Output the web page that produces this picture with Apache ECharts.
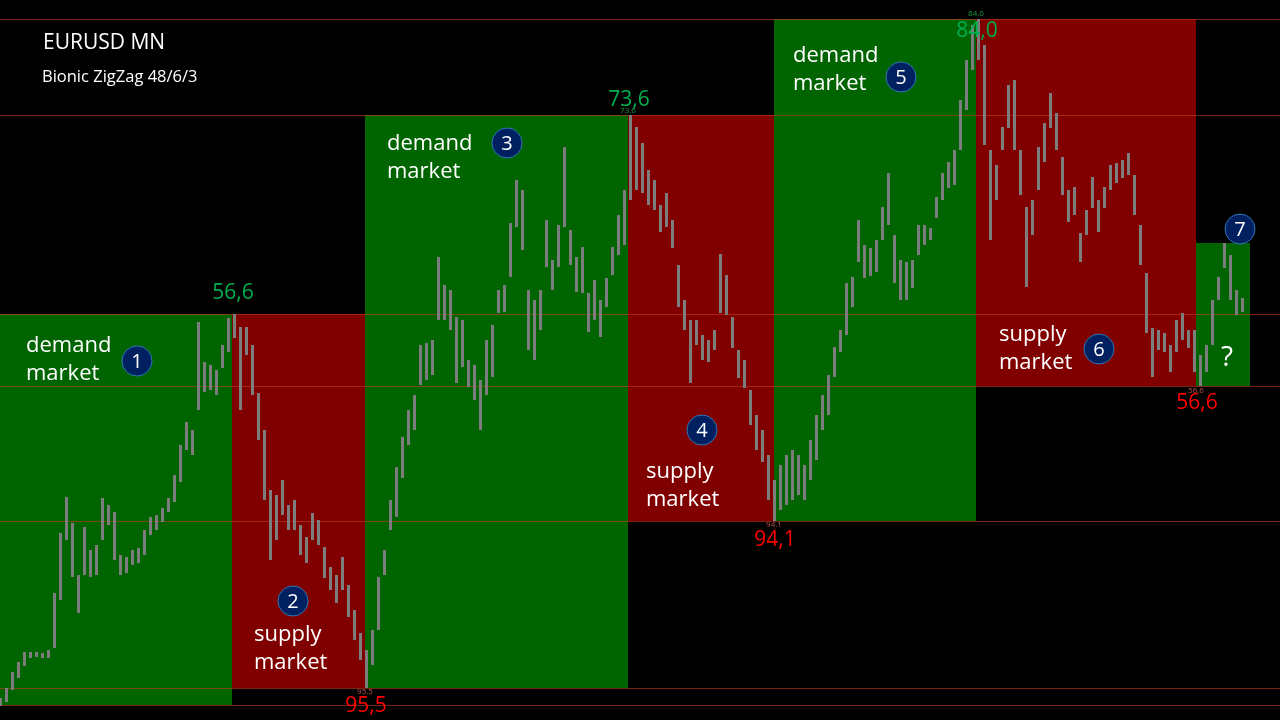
<!DOCTYPE html>
<html>
<head>
<meta charset="utf-8">
<script src="https://cdn.jsdelivr.net/npm/echarts@6/dist/echarts.min.js"></script>
<style>
html, body { margin: 0; padding: 0; background: #000; }
#main { width: 1280px; height: 720px; }
</style>
</head>
<body>
<div id="main"></div>
<script>
// monthly bars, one every bar index (high / low)
var highs = [0.822,0.832,0.848,0.858,0.868,0.868,0.868,0.867,0.870,0.927,
  0.987,1.023,0.997,0.945,0.993,0.970,0.975,1.022,1.015,1.008,
  0.965,0.963,0.970,0.972,0.990,1.003,1.005,1.012,1.022,1.045,
  1.075,1.098,1.090,1.198,1.158,1.155,1.150,1.175,1.202,1.206,
  1.193,1.193,1.175,1.127,1.090,1.030,1.025,1.040,1.015,1.020,
  0.995,0.983,1.007,1.000,0.973,0.953,0.945,0.963,0.935,0.910,
  0.887,0.870,0.890,0.943,0.970,1.020,1.053,1.083,1.110,1.125,
  1.175,1.177,1.180,1.263,1.235,1.230,1.203,1.200,1.160,1.155,
  1.140,1.180,1.195,1.230,1.235,1.297,1.340,1.330,1.230,1.220,
  1.230,1.300,1.260,1.295,1.373,1.290,1.263,1.273,1.227,1.240,
  1.220,1.242,1.273,1.305,1.330,1.405,1.393,1.377,1.350,1.340,
  1.315,1.327,1.300,1.255,1.220,1.200,1.200,1.185,1.180,1.190,
  1.266,1.245,1.203,1.170,1.160,1.130,1.105,1.090,1.065,1.040,
  1.055,1.065,1.070,1.065,1.055,1.080,1.105,1.125,1.145,1.173,
  1.190,1.237,1.243,1.300,1.275,1.272,1.280,1.313,1.347,1.285,
  1.260,1.258,1.260,1.295,1.295,1.292,1.323,1.347,1.358,1.370,
  1.420,1.460,1.495,1.501,1.475,1.370,1.355,1.393,1.435,1.440,
  1.370,1.313,1.320,1.373,1.397,1.427,1.407,1.363,1.330,1.333,
  1.287,1.310,1.343,1.320,1.333,1.355,1.357,1.360,1.367,1.345,
  1.295,1.247,1.192,1.190,1.187,1.175,1.200,1.207,1.190,1.190,
  1.165,1.175,1.220,1.243,1.277,1.265,1.230,1.222];
var lows = [0.814,0.818,0.830,0.842,0.854,0.862,0.863,0.862,0.862,0.872,
  0.920,0.980,0.943,0.907,0.945,0.943,0.945,0.980,0.995,0.960,
  0.945,0.947,0.955,0.957,0.965,0.985,0.990,0.998,1.008,1.018,
  1.038,1.070,1.065,1.110,1.128,1.130,1.125,1.152,1.168,1.182,
  1.110,1.165,1.125,1.080,1.020,0.960,0.980,1.005,0.990,0.990,
  0.965,0.957,0.980,0.975,0.942,0.930,0.917,0.930,0.903,0.880,
  0.860,0.832,0.855,0.890,0.945,0.990,1.003,1.042,1.075,1.090,
  1.135,1.140,1.145,1.200,1.200,1.190,1.137,1.153,1.133,1.120,
  1.090,1.125,1.143,1.207,1.208,1.243,1.293,1.270,1.170,1.160,
  1.190,1.253,1.230,1.253,1.293,1.255,1.228,1.227,1.188,1.200,
  1.183,1.213,1.245,1.265,1.275,1.320,1.330,1.327,1.315,1.310,
  1.288,1.293,1.272,1.213,1.190,1.137,1.175,1.160,1.158,1.170,
  1.207,1.205,1.172,1.142,1.132,1.095,1.070,1.058,1.020,0.999,
  1.010,1.015,1.020,1.025,1.020,1.040,1.060,1.090,1.105,1.143,
  1.168,1.185,1.213,1.258,1.242,1.244,1.248,1.280,1.295,1.237,
  1.220,1.220,1.232,1.265,1.275,1.280,1.302,1.320,1.332,1.335,
  1.370,1.410,1.450,1.460,1.375,1.280,1.320,1.370,1.392,1.370,
  1.325,1.233,1.285,1.330,1.358,1.392,1.370,1.325,1.298,1.305,
  1.258,1.285,1.312,1.288,1.312,1.330,1.337,1.342,1.345,1.305,
  1.255,1.187,1.143,1.170,1.168,1.148,1.168,1.180,1.172,1.148,
  1.134,1.148,1.175,1.220,1.252,1.220,1.205,1.208];

// zigzag turning points (bar position, price); zones run between them
var pivotX = [0, 38.67, 60.83, 104.67, 129, 162.67, 199.33, 208.33];
var pivotLevel = [0.815, 1.206, 0.832, 1.405, 0.999, 1.501, 1.134, 1.277];
var zoneKind = ['demand', 'supply', 'demand', 'supply', 'demand', 'supply', 'demand'];
var retraceBig = ['', '56,6', '95,5', '73,6', '94,1', '84,0', '56,6'];
var retraceSmall = ['', '', '95.5', '73.6', '94.1', '84.0', '56.6'];
var levels = [1.501, 1.405, 1.206, 1.134, 0.999, 0.832, 0.815];

var FONT = '"Open Sans", "Noto Sans", sans-serif';
var X_MAX = 213.33;

var barData = highs.map(function (h, i) { return [i, h, lows[i]]; });
var zoneData = zoneKind.map(function (k, i) {
	return [pivotX[i], pivotX[i + 1], Math.max(pivotLevel[i], pivotLevel[i + 1]), Math.min(pivotLevel[i], pivotLevel[i + 1]), k];
});

var myChart = echarts.init(document.getElementById('main'));
var option = {
	backgroundColor: '#000',
	animation: false,
	grid: { left: 0, right: 0, top: 0, bottom: 0 },
	xAxis: { type: 'value', min: 0, max: X_MAX, show: false },
	yAxis: { type: 'value', min: 0.80, max: 1.52, show: false, splitLine: { show: false } },
	series: [
		{
			name: 'zones',
			type: 'custom',
			z: 1,
			silent: true,
			data: zoneData,
			encode: { x: [0, 1], y: [2, 3] },
			renderItem: function (params, api) {
				var p0 = api.coord([api.value(0), api.value(2)]);
				var p1 = api.coord([api.value(1), api.value(3)]);
				var kind = zoneKind[params.dataIndex];
				return {
					type: 'rect',
					shape: { x: p0[0], y: p0[1], width: p1[0] - p0[0], height: p1[1] - p0[1] },
					style: { fill: kind === 'demand' ? '#006400' : '#800000' }
				};
			}
		},
		{
			name: 'levels',
			type: 'custom',
			z: 2,
			silent: true,
			data: levels.map(function (v) { return [0, v]; }),
			encode: { x: 0, y: 1 },
			renderItem: function (params, api) {
				var a = api.coord([0, api.value(1)]);
				var b = api.coord([X_MAX, api.value(1)]);
				var y = Math.round(a[1]) + 0.5;
				return {
					type: 'line',
					shape: { x1: a[0], y1: y, x2: b[0], y2: y },
					style: { stroke: 'rgba(200,60,30,0.6)', lineWidth: 1 }
				};
			}
		},
		{
			name: 'EURUSD',
			type: 'custom',
			z: 3,
			silent: true,
			data: barData,
			encode: { x: 0, y: [1, 2] },
			renderItem: function (params, api) {
				var hi = api.coord([api.value(0), api.value(1)]);
				var lo = api.coord([api.value(0), api.value(2)]);
				return {
					type: 'line',
					shape: { x1: hi[0] + 0.5, y1: hi[1], x2: lo[0] + 0.5, y2: lo[1] },
					style: { stroke: '#7d7d7d', lineWidth: 3 }
				};
			}
		}
	]
};
myChart.setOption(option);

function txt(x, y, s, size, color, align) {
	return {
		type: 'text', z: 10, silent: true,
		x: x, y: y,
		style: {
			text: s, fill: color, font: size + 'px ' + FONT,
			textAlign: align || 'left', textVerticalAlign: 'middle',
			align: align || 'left', verticalAlign: 'middle'
		}
	};
}
function badge(cx, cy, n) {
	return [
		{ type: 'circle', z: 10, silent: true, shape: { cx: cx, cy: cy, r: 15 },
			style: { fill: '#002060', stroke: '#2e75b6', lineWidth: 1 } },
		txt(cx, cy + 1, String(n), 20, '#fff', 'center')
	];
}

var g = [
	txt(43, 43, 'EURUSD MN', 21, '#fff'),
	txt(42, 77, 'Bionic ZigZag 48/6/3', 16.5, '#fff'),
	txt(26, 346, 'demand', 22, '#fff'), txt(26, 374, 'market', 22, '#fff'),
	txt(254, 635, 'supply', 22, '#fff'), txt(254, 663, 'market', 22, '#fff'),
	txt(387, 144, 'demand', 22, '#fff'), txt(387, 172, 'market', 22, '#fff'),
	txt(646, 472, 'supply', 22, '#fff'), txt(646, 500, 'market', 22, '#fff'),
	txt(793, 56, 'demand', 22, '#fff'), txt(793, 84, 'market', 22, '#fff'),
	txt(999, 335, 'supply', 22, '#fff'), txt(999, 363, 'market', 22, '#fff'),
	txt(1227, 358, '?', 28, '#fff', 'center')
];
g = g.concat(badge(137, 361, 1), badge(293, 601, 2), badge(507, 143, 3),
	badge(702, 430, 4), badge(901, 77, 5), badge(1099, 349, 6), badge(1240, 229, 7));

// retracement labels next to each turning point
var bigDy = [0, -21, 18, -15, 19, 12, 17];
var smallDy = [0, 0, 4, -4, 4, -5, 5];
for (var k = 1; k <= 6; k++) {
	var p = myChart.convertToPixel({ gridIndex: 0 }, [pivotX[k], pivotLevel[k]]);
	var isTop = pivotLevel[k] > pivotLevel[k - 1];
	g.push(txt(p[0] + 1, p[1] + bigDy[k], retraceBig[k], 21, isTop ? '#00b050' : '#ff0000', 'center'));
	if (retraceSmall[k]) {
		g.push(txt(p[0], p[1] + smallDy[k], retraceSmall[k], 8, isTop ? '#1f9a3c' : '#c0504d', 'center'));
	}
}
myChart.setOption({ graphic: { elements: g } });
</script>
</body>
</html>
